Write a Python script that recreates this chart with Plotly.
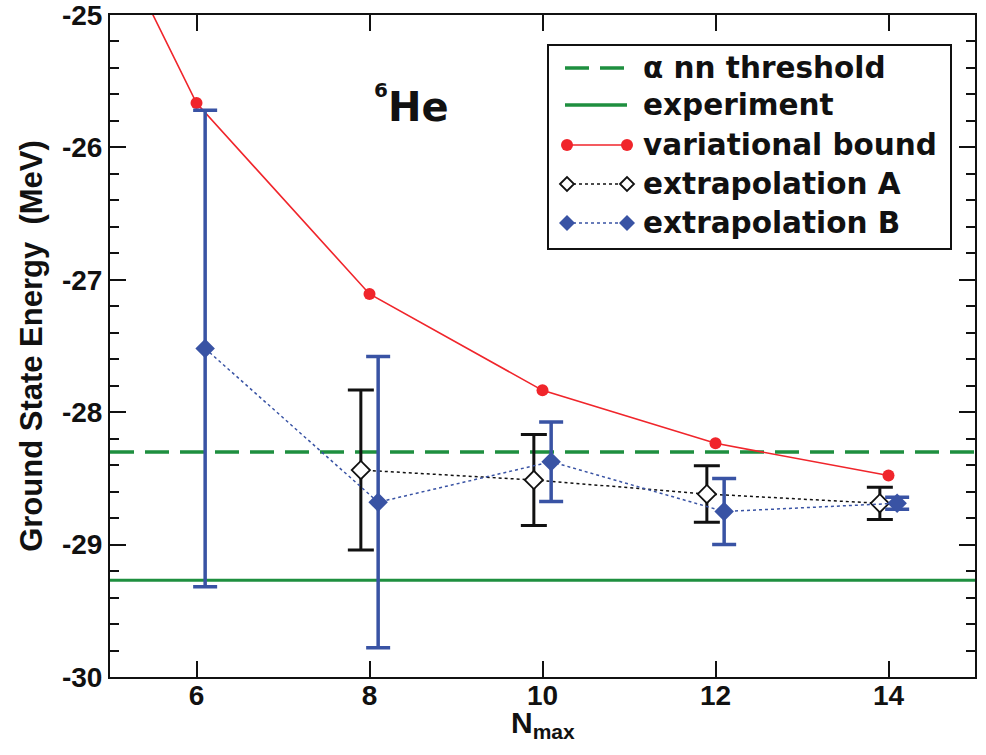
import plotly.graph_objects as go

# ---------------- data ----------------
nmax_var = [4, 6, 8, 10, 12, 14]
e_var = [-23.02, -25.665, -27.107, -27.835, -28.235, -28.478]

nmax_A = [7.9, 9.9, 11.9, 13.9]
e_A = [-28.437, -28.512, -28.618, -28.688]
err_A = [0.604, 0.343, 0.213, 0.122]

nmax_B = [6.1, 8.1, 10.1, 12.1, 14.1]
e_B = [-27.519, -28.680, -28.374, -28.750, -28.688]
err_B = [1.80, 1.10, 0.30, 0.25, 0.045]

e_threshold = -28.30
e_experiment = -29.27

x_ticks = [6, 8, 10, 12, 14]
y_ticks = [-30, -29, -28, -27, -26, -25]

legend_labels = ["\u03b1 nn threshold", "experiment", "variational bound",
                 "extrapolation A", "extrapolation B"]

RED = "#f0252b"
BLUE = "#3953a4"
GREEN = "#1e8f3f"
BLACK = "#111111"

W, H = 986, 755
ML, MR, MT, MB = 110, 11, 15, 78
PW, PH = W - ML - MR, H - MT - MB


def px(x):
    return (x - ML) / PW


def py(y):
    return (H - MB - y) / PH


fig = go.Figure()

# threshold & experiment lines (data y values, spanning the x range)
fig.add_shape(type="line", xref="paper", yref="y", x0=0, x1=1,
              y0=e_threshold, y1=e_threshold,
              line=dict(color=GREEN, width=3.5, dash="24px,11px"), layer="below")
fig.add_shape(type="line", xref="paper", yref="y", x0=0, x1=1,
              y0=e_experiment, y1=e_experiment,
              line=dict(color=GREEN, width=3), layer="below")

fig.add_trace(go.Scatter(
    x=nmax_var, y=e_var, mode="lines+markers",
    line=dict(color=RED, width=1.6),
    marker=dict(color=RED, size=12, symbol="circle"),
    showlegend=False, cliponaxis=True))

fig.add_trace(go.Scatter(
    x=nmax_A, y=e_A, mode="lines+markers",
    line=dict(color=BLACK, width=1.5, dash="dot"),
    marker=dict(color="white", size=14, symbol="diamond",
                line=dict(color=BLACK, width=1.8)),
    error_y=dict(type="data", array=err_A, color=BLACK, thickness=3, width=13),
    showlegend=False))

fig.add_trace(go.Scatter(
    x=nmax_B, y=e_B, mode="lines+markers",
    line=dict(color=BLUE, width=1.5, dash="dot"),
    marker=dict(color=BLUE, size=15, symbol="diamond"),
    error_y=dict(type="data", array=err_B, color=BLUE, thickness=3.5, width=12),
    showlegend=False))

# ---------------- custom legend ----------------
fig.add_shape(type="rect", xref="paper", yref="paper",
              x0=px(548), x1=px(951), y0=py(249), y1=py(45),
              line=dict(color=BLACK, width=2), fillcolor="white", layer="above")
rows = [68, 105, 145, 184, 223]
lx0, lx1 = 565, 627
styles = [
    dict(color=GREEN, width=3.5, dash="24px,11px"),
    dict(color=GREEN, width=3.5),
    dict(color=RED, width=1.6),
    dict(color=BLACK, width=1.5, dash="dot"),
    dict(color=BLUE, width=1.5, dash="dot"),
]
for i, (ry, st) in enumerate(zip(rows, styles)):
    fig.add_shape(type="line", xref="paper", yref="paper",
                  x0=px(lx0 if i < 2 else lx0 + 2), x1=px(lx1 if i < 2 else lx1 - 2),
                  y0=py(ry), y1=py(ry), line=st, layer="above")
    fig.add_annotation(text=legend_labels[i], xref="paper", yref="paper",
                       x=px(641), y=py(ry), xanchor="left", yanchor="middle",
                       showarrow=False,
                       font=dict(family="DejaVu Sans", size=29.5, color=BLACK,
                                 weight="bold"))
    for mx in (lx0 + 2, lx1):
        if i == 2:
            fig.add_shape(type="circle", xref="paper", yref="paper",
                          xsizemode="pixel", ysizemode="pixel",
                          xanchor=px(mx), yanchor=py(ry),
                          x0=-6, x1=6, y0=-6, y1=6,
                          fillcolor=RED, line=dict(color=RED, width=0), layer="above")
        elif i == 3:
            fig.add_shape(type="path", xref="paper", yref="paper",
                          xsizemode="pixel", ysizemode="pixel",
                          xanchor=px(mx), yanchor=py(ry),
                          path="M -7 0 L 0 7 L 7 0 L 0 -7 Z",
                          fillcolor="white", line=dict(color=BLACK, width=1.8),
                          layer="above")
        elif i == 4:
            fig.add_shape(type="path", xref="paper", yref="paper",
                          xsizemode="pixel", ysizemode="pixel",
                          xanchor=px(mx), yanchor=py(ry),
                          path="M -8 0 L 0 8 L 8 0 L 0 -8 Z",
                          fillcolor=BLUE, line=dict(color=BLUE, width=0),
                          layer="above")

# 6He label
fig.add_annotation(text="He", xref="paper", yref="paper", x=px(386), y=py(107),
                   xanchor="left", yanchor="middle", showarrow=False,
                   font=dict(family="DejaVu Sans", size=40, color=BLACK, weight="bold"))
fig.add_annotation(text="6", xref="paper", yref="paper", x=px(390), y=py(90),
                   xanchor="right", yanchor="middle", showarrow=False,
                   font=dict(family="DejaVu Sans", size=20, color=BLACK, weight="bold"))

# x-axis title
fig.add_annotation(text="N<sub>max</sub>", xref="x", yref="paper", x=10, y=py(724),
                   xanchor="center", yanchor="middle", showarrow=False,
                   font=dict(family="Liberation Sans", size=30, color=BLACK, weight="bold"))

tickfont = dict(family="Liberation Sans", size=28, color=BLACK, weight="bold")

fig.update_layout(
    width=W, height=H,
    margin=dict(l=ML, r=MR, t=MT, b=MB, autoexpand=False),
    paper_bgcolor="white", plot_bgcolor="white",
    showlegend=False,
    xaxis=dict(range=[5, 15], tickvals=x_ticks, ticktext=[str(v) for v in x_ticks],
               ticks="inside", ticklen=16, tickwidth=2, tickcolor=BLACK,
               showline=True, linecolor=BLACK, linewidth=2, mirror="ticks",
               showgrid=False, zeroline=False, tickfont=tickfont, automargin=False,
               ticklabelstandoff=-8, ticklabeloverflow="allow"),
    yaxis=dict(range=[-30, -25], tickvals=y_ticks, ticktext=[str(v) for v in y_ticks],
               ticks="inside", ticklen=16, tickwidth=2, tickcolor=BLACK,
               showline=True, linecolor=BLACK, linewidth=2, mirror="ticks",
               showgrid=False, zeroline=False, tickfont=tickfont, automargin=False,
               ticklabeloverflow="allow",
               minor=dict(dtick=0.2, tick0=-30, ticks="inside", ticklen=9,
                          tickwidth=1.5, tickcolor=BLACK, showgrid=False),
               title=dict(text="Ground State Energy  (MeV)", standoff=10,
                          font=dict(family="Liberation Sans", size=31, color=BLACK,
                                    weight="bold"))),
)

fig.write_html("out.html")
